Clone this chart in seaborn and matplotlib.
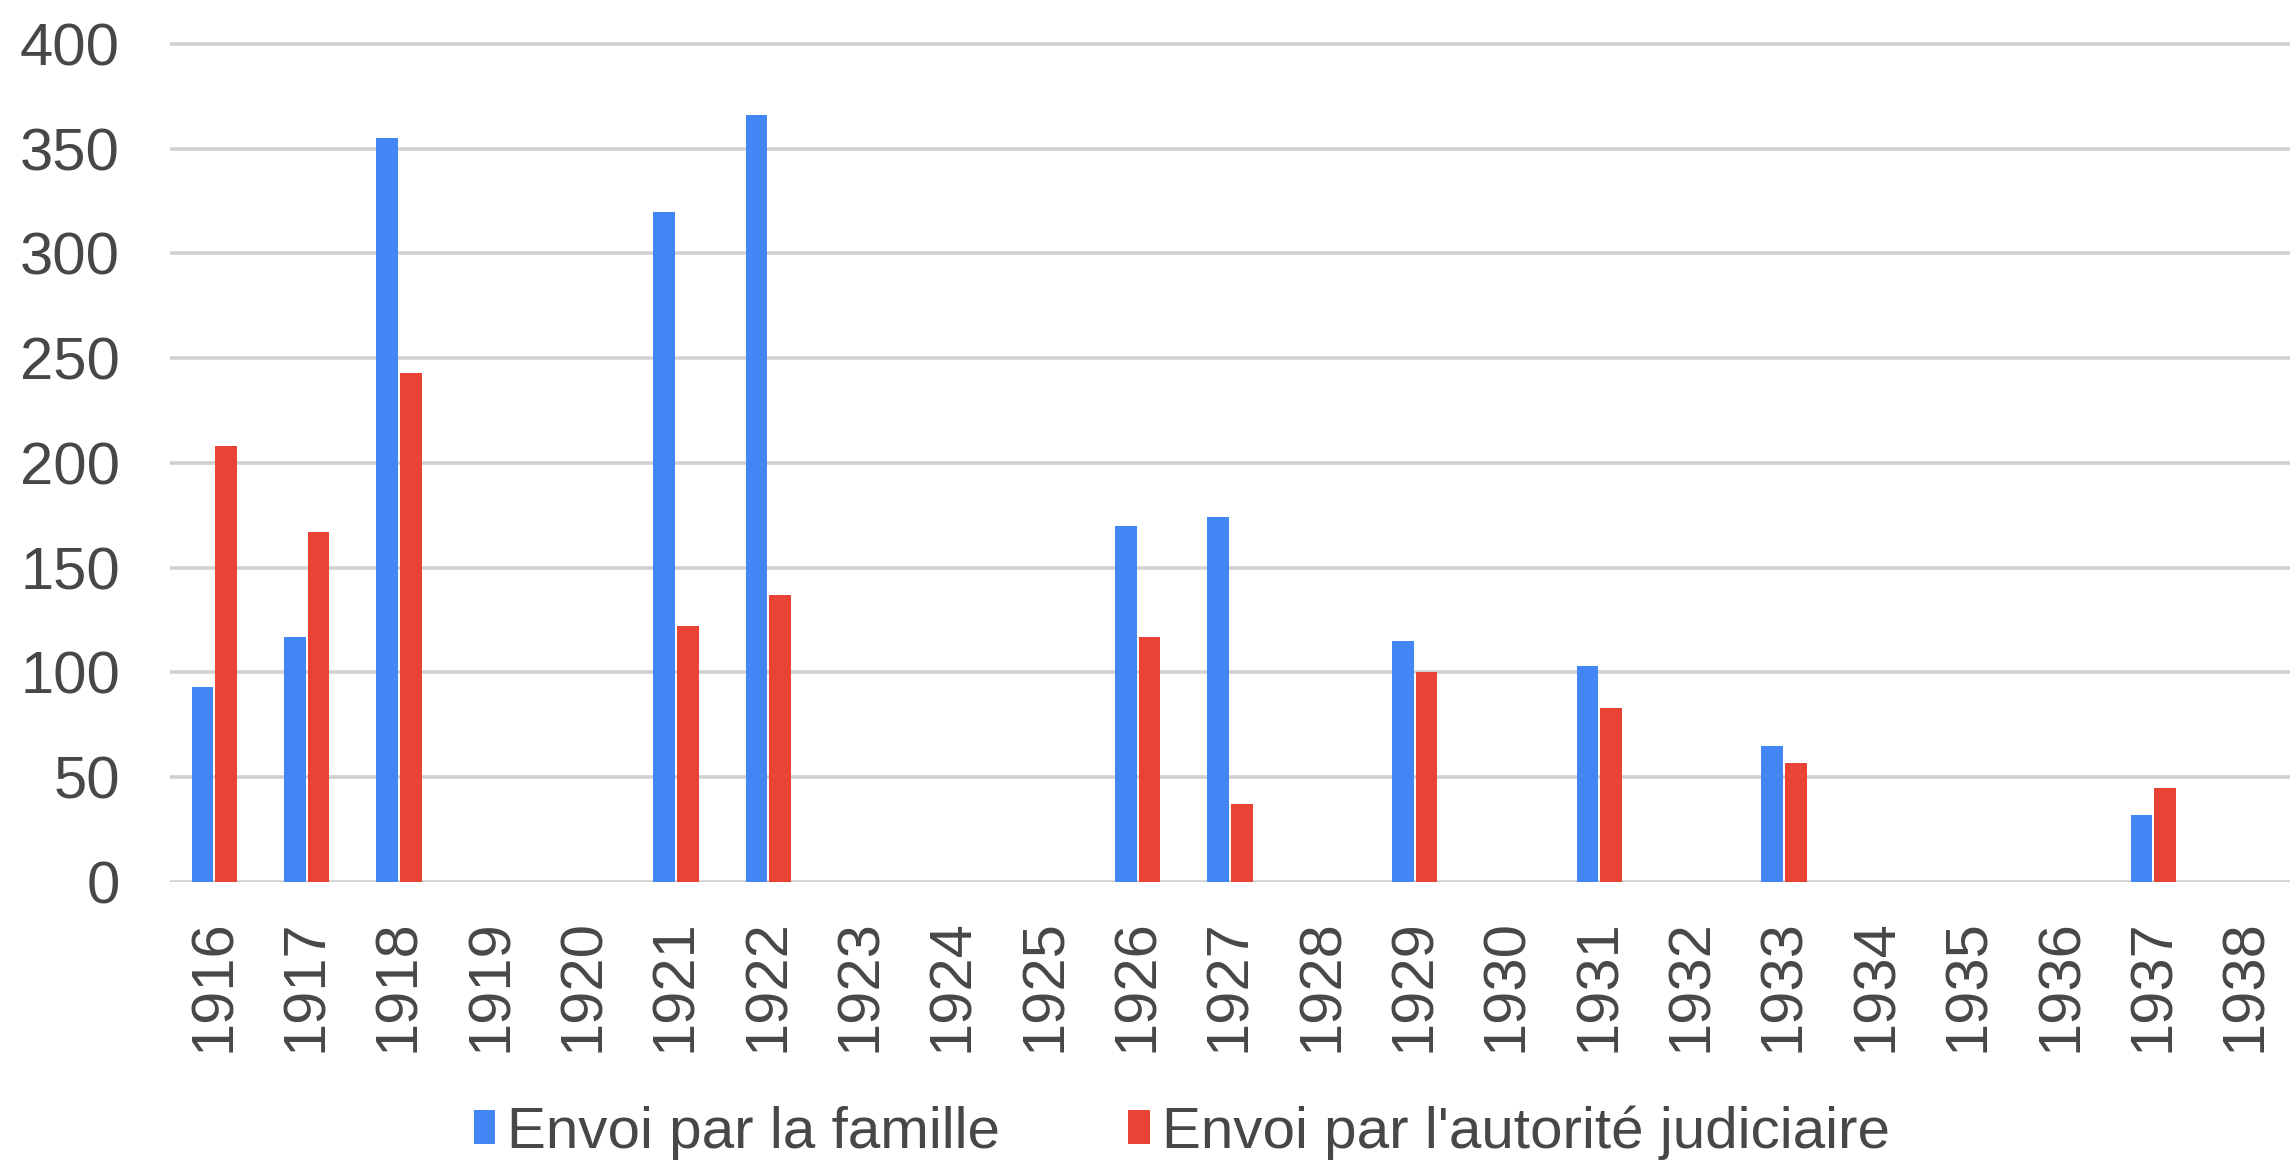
import numpy as np
import pandas as pd
import matplotlib
matplotlib.use("Agg")
import matplotlib.pyplot as plt
import seaborn as sns
from matplotlib.patches import Patch

years = [str(y) for y in range(1916, 1939)]
famille = [93, 117, 355, 0, 0, 320, 366, 0, 0, 0, 170, 174, 0, 115, 0, 103, 0, 65, 0, 0, 0, 32, 0]
judiciaire = [208, 167, 243, 0, 0, 122, 137, 0, 0, 0, 117, 37, 0, 100, 0, 83, 0, 57, 0, 0, 0, 45, 0]
series_names = ["Envoi par la famille", "Envoi par l'autorité judiciaire"]
colors = ["#4285F4", "#EA4335"]
yticks = [0, 50, 100, 150, 200, 250, 300, 350, 400]

df = pd.DataFrame({
    "year": years * 2,
    "value": famille + judiciaire,
    "series": [series_names[0]] * len(years) + [series_names[1]] * len(years),
})

sns.set_theme(style="white")
plt.rcParams["font.family"] = ["Liberation Sans", "DejaVu Sans"]

fig = plt.figure(figsize=(22.9, 11.76), dpi=100)
ax = fig.add_axes([0.0742, 0.25, 0.9258, 0.7215])

sns.barplot(data=df, x="year", y="value", hue="series", order=years,
            hue_order=series_names, palette=colors, width=0.51, gap=0.08,
            saturation=1, ax=ax, legend=False, linewidth=0)

ax.set_xlim(-0.48, len(years) - 1 + 0.48)
ax.set_ylim(0, 405)
ax.set_yticks(yticks)
ax.yaxis.grid(True, color="#d0d0d0", linewidth=2.6)
ax.set_axisbelow(True)
for s in ax.spines.values():
    s.set_visible(False)
ax.set_xlabel("")
ax.set_ylabel("")
ax.tick_params(axis="y", length=0, pad=36, labelsize=43, labelcolor="#474747")
ax.tick_params(axis="x", length=0, pad=27, labelsize=43, labelcolor="#474747", labelrotation=90)

handles = [Patch(facecolor=c, edgecolor="none") for c in colors]
fig.legend(handles, series_names, loc="center", bbox_to_anchor=(0.516, 0.037),
           ncol=2, frameon=False, fontsize=42, labelcolor="#474747",
           handlelength=0.37, handleheight=0.5, handletextpad=0.2, columnspacing=2.2)

fig.savefig("out.png", dpi=100)
